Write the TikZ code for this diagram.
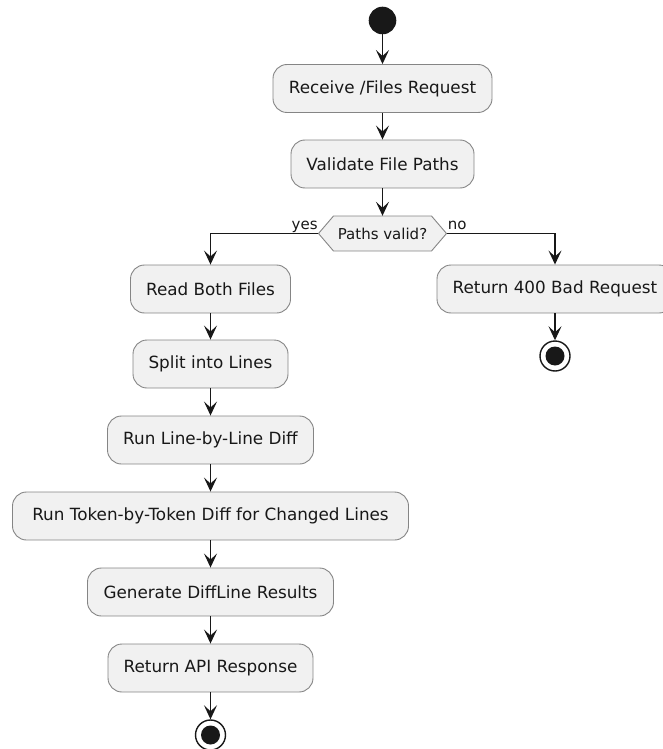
\documentclass[tikz,border=0pt]{standalone}
\usepackage{fontspec}
\setmainfont{DejaVu Sans}
\usetikzlibrary{arrows.meta,calc}

\definecolor{ink}{HTML}{181818}
\definecolor{boxfill}{HTML}{F1F1F1}
\definecolor{boxline}{HTML}{858585}

\tikzset{
  action/.style={draw=boxline, line width=0.9pt, fill=boxfill, rounded corners=14pt,
    minimum height=48pt, inner sep=0pt, text=ink,
    font=\fontsize{16.8}{20}\selectfont},
  hexbox/.style={draw=boxline, line width=0.9pt, fill=boxfill},
  condtext/.style={inner sep=0pt, text=ink, font=\fontsize{15}{18}\selectfont},
  branchlabel/.style={inner sep=0pt, text=ink, font=\fontsize{15}{18}\selectfont},
  startdot/.style={circle, fill=ink, minimum size=27.6pt, inner sep=0pt},
  enddot/.style={circle, draw=ink, line width=1.4pt, fill=white, minimum size=30pt, inner sep=0pt,
    path picture={\fill[ink] (path picture bounding box.center) circle (9.5pt);}},
  flow/.style={draw=ink, line width=1.3pt, -{Stealth[length=14pt, width=13pt, inset=6pt]}},
}

\begin{document}
\begin{tikzpicture}[x=1pt, y=-1pt]
  \useasboundingbox (0,0) rectangle (662,749);

  % main column
  \node[startdot] (start) at (382.5,20.5) {};
  \node[action, minimum width=219pt] (recv) at (382.5,88.5) {Receive /Files Request};
  \node[action, minimum width=183pt] (valid) at (382.5,164) {Validate File Paths};

  % decision hexagon
  \coordinate (dc) at (382.5,233.5);
  \draw[hexbox] ($(dc)+(-64,0)$) -- ($(dc)+(-49,-17.5)$) -- ($(dc)+(49,-17.5)$)
    -- ($(dc)+(64,0)$) -- ($(dc)+(49,17.5)$) -- ($(dc)+(-49,17.5)$) -- cycle;
  \node[condtext, minimum width=128pt, minimum height=35pt] (dec) at (dc) {Paths valid?};

  % yes branch
  \node[action, minimum width=160pt] (read) at (210.5,289) {Read Both Files};
  \node[action, minimum width=155pt] (split) at (210.5,364) {Split into Lines};
  \node[action, minimum width=206pt] (lines) at (210.5,440) {Run Line-by-Line Diff};
  \node[action, minimum width=396pt] (tokens) at (210.5,516) {Run Token-by-Token Diff for Changed Lines};
  \node[action, minimum width=246pt] (gen) at (210.5,592) {Generate DiffLine Results};
  \node[action, minimum width=205pt] (api) at (210.5,668) {Return API Response};
  \node[enddot] (stopA) at (210.5,735) {};

  % no branch
  \node[action, minimum width=236pt] (bad) at (555,289) {Return 400 Bad Request};
  \node[enddot] (stopB) at (555,356) {};

  % connectors
  \draw[flow] (start) -- (recv);
  \draw[flow] (recv) -- (valid);
  \draw[flow] (valid) -- (dec);
  \draw[flow] (dec.west) -| (read.north);
  \draw[flow] (dec.east) -| (bad.north);
  \draw[flow] (read) -- (split);
  \draw[flow] (split) -- (lines);
  \draw[flow] (lines) -- (tokens);
  \draw[flow] (tokens) -- (gen);
  \draw[flow] (gen) -- (api);
  \draw[flow] (api) -- (stopA);
  \draw[flow] (bad) -- (stopB);

  % branch labels
  \node[branchlabel, anchor=base east] (yeslbl) at ($(dec.west)+(-0.5,-4)$) {yes};
  \node[branchlabel, anchor=base west] (nolbl) at ($(dec.east)+(1,-4)$) {no};
\end{tikzpicture}
\end{document}
